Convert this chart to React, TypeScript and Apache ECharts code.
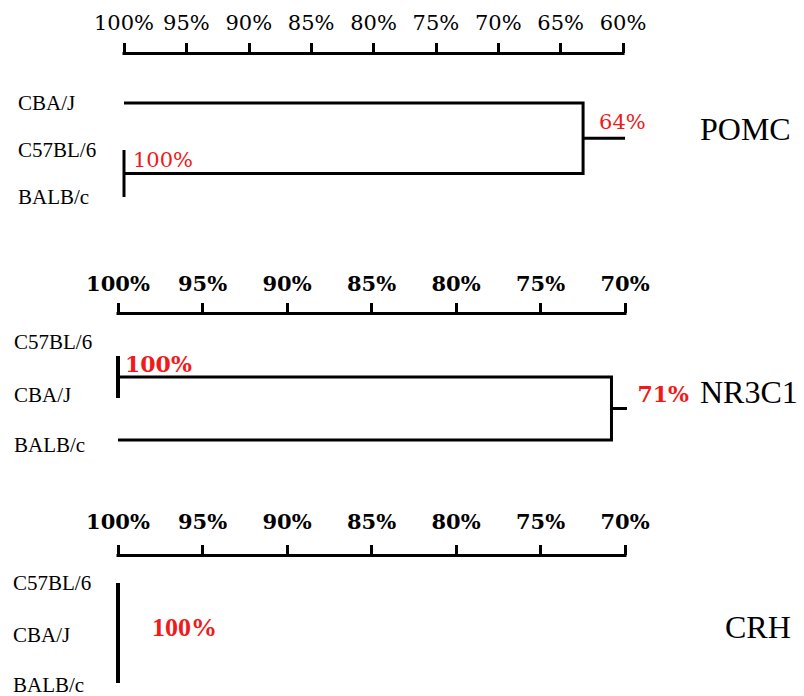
import React, { useEffect, useRef } from 'react';
import * as echarts from 'echarts';

// ---------- data ----------
const pomcTicks = [100, 95, 90, 85, 80, 75, 70, 65, 60];
const pomcLeaves = ['CBA/J', 'C57BL/6', 'BALB/c'];
const pomcMerges = [[1, 2], [0, 3]]; // child node ids (leaves 0..2, merges 3..)
const pomcMergeHeights = [100, 63.2];
const pomcMergeLabels = ['100%', '64%'];
const pomcRootEnd = 58.7;

const nr3c1Ticks = [100, 95, 90, 85, 80, 75, 70];
const nr3c1Leaves = ['C57BL/6', 'CBA/J', 'BALB/c'];
const nr3c1Merges = [[0, 1], [3, 2]];
const nr3c1MergeHeights = [100, 70.8];
const nr3c1MergeLabels = ['100%', '71%'];
const nr3c1RootEnd = 69.6;

const crhTicks = [100, 95, 90, 85, 80, 75, 70];
const crhLeaves = ['C57BL/6', 'CBA/J', 'BALB/c'];
const crhMerges = [[0, 1], [3, 2]];
const crhMergeHeights = [100, 100];
const crhMergeLabels = ['', '100%'];
const crhRootEnd: number | null = null;

const geneNames = ['POMC', 'NR3C1', 'CRH'];

// ---------- layout / style ----------
const panels = [
  {
    gene: geneNames[0], ticks: pomcTicks, leaves: pomcLeaves, merges: pomcMerges,
    heights: pomcMergeHeights, labels: pomcMergeLabels, rootEnd: pomcRootEnd,
    grid: { left: 124, top: 103, width: 499, height: 94 },
    axisOffset: 50, axisLabelMargin: 20, leafLabelLeft: 18,
    axisFont: { fontFamily: 'DejaVu Serif', fontSize: 21, fontWeight: 'normal' },
    labelFont: { fontFamily: 'DejaVu Serif', fontSize: 21, fontWeight: 'normal' },
    labelOffsets: [[9, -14], [16, -16]],
    leafShift: [0, 0, 0],
    lineWidths: [3, 3], stubWidth: 3,
    title: { left: 700, top: 113 },
  },
  {
    gene: geneNames[1], ticks: nr3c1Ticks, leaves: nr3c1Leaves, merges: nr3c1Merges,
    heights: nr3c1MergeHeights, labels: nr3c1MergeLabels, rootEnd: nr3c1RootEnd,
    grid: { left: 118, top: 356, width: 507, height: 84 },
    axisOffset: 43, axisLabelMargin: 19, leafLabelLeft: 14,
    axisFont: { fontFamily: 'DejaVu Serif', fontSize: 21, fontWeight: 'bold' },
    labelFont: { fontFamily: 'DejaVu Serif', fontSize: 22, fontWeight: 'bold' },
    labelOffsets: [[7, -13], [26, -15]],
    leafShift: [-14, -3, 5],
    lineWidths: [4, 3], stubWidth: 3,
    title: { left: 700, top: 376 },
  },
  {
    gene: geneNames[2], ticks: crhTicks, leaves: crhLeaves, merges: crhMerges,
    heights: crhMergeHeights, labels: crhMergeLabels, rootEnd: crhRootEnd,
    grid: { left: 118, top: 583, width: 507, height: 100 },
    axisOffset: 28, axisLabelMargin: 23, leafLabelLeft: 13,
    axisFont: { fontFamily: 'DejaVu Serif', fontSize: 21, fontWeight: 'bold' },
    labelFont: { fontFamily: 'Liberation Serif', fontSize: 26, fontWeight: 'bold' },
    labelOffsets: [[0, 0], [34, -18]],
    leafShift: [0, 2, 2],
    lineWidths: [4, 4], stubWidth: 4,
    title: { left: 725, top: 611 },
  },
];

const RED = '#f01a1a';

function buildOption() {
  const grid: any[] = [];
  const xAxis: any[] = [];
  const yAxis: any[] = [];
  const series: any[] = [];
  const title: any[] = [];

  panels.forEach((p, i) => {
    const tmax = Math.max(...p.ticks);
    const tmin = Math.min(...p.ticks);
    const step = Math.abs(p.ticks[0] - p.ticks[1]);
    grid.push({ ...p.grid });

    xAxis.push({
      type: 'value', gridIndex: i, position: 'top', inverse: true,
      min: tmin, max: tmax, interval: step, offset: p.axisOffset,
      axisLine: { show: true, onZero: false, lineStyle: { color: '#000', width: 3, cap: 'square' } },
      axisTick: { show: true, length: 10, inside: false, lineStyle: { color: '#000', width: 3 } },
      axisLabel: {
        show: true, margin: p.axisLabelMargin, color: '#000',
        ...p.axisFont,
        formatter: (v: number) => v + '%',
      },
      splitLine: { show: false },
    });

    const rich: any = {};
    p.leafShift.forEach((s, k) => {
      rich['s' + k] = {
        fontFamily: 'Liberation Serif', fontSize: 21, color: '#000',
        padding: s < 0 ? [0, 0, -2 * s, 0] : [2 * s, 0, 0, 0],
      };
    });
    yAxis.push({
      type: 'value', gridIndex: i, inverse: true, min: 0, max: p.leaves.length - 1, interval: 1,
      axisLine: { show: false, onZero: false }, axisTick: { show: false }, splitLine: { show: false },
      axisLabel: {
        show: true, align: 'left', margin: p.grid.left - p.leafLabelLeft,
        fontFamily: 'Liberation Serif', fontSize: 21, color: '#000',
        formatter: (v: number) => {
          const k = Math.round(v);
          if (Math.abs(k - v) > 1e-6 || !p.leaves[k]) return '';
          return '{s' + k + '|' + p.leaves[k] + '}';
        },
        rich,
      },
    });

    // node positions
    const nodes: { x: number; y: number }[] = p.leaves.map((_, k) => ({ x: tmax, y: k }));
    p.merges.forEach((m, j) => {
      const a = nodes[m[0]];
      const b = nodes[m[1]];
      const h = p.heights[j];
      series.push({
        type: 'line', xAxisIndex: i, yAxisIndex: i, symbol: 'none', silent: true, clip: false,
        lineStyle: { color: '#000', width: p.lineWidths[j], cap: 'butt', join: 'miter' },
        data: [[a.x, a.y], [h, a.y], [h, b.y], [b.x, b.y]],
      });
      nodes.push({ x: h, y: (a.y + b.y) / 2 });
    });
    const root = nodes[nodes.length - 1];
    if (p.rootEnd !== null && p.rootEnd !== undefined) {
      series.push({
        type: 'line', xAxisIndex: i, yAxisIndex: i, symbol: 'none', silent: true, clip: false,
        lineStyle: { color: '#000', width: p.stubWidth },
        data: [[root.x, root.y], [p.rootEnd, root.y]],
      });
    }
    // merge annotations
    p.merges.forEach((_, j) => {
      const txt = p.labels[j];
      if (!txt) return;
      const n = nodes[p.leaves.length + j];
      series.push({
        type: 'scatter', xAxisIndex: i, yAxisIndex: i, symbolSize: 0, silent: true, clip: false,
        itemStyle: { opacity: 1 },
        data: [[n.x, n.y, txt]],
        label: {
          show: true, position: 'right', distance: 0, offset: p.labelOffsets[j],
          color: RED, opacity: 1, ...p.labelFont,
          formatter: (q: any) => q.data[2],
        },
      });
    });

    title.push({
      text: p.gene, left: p.title.left, top: p.title.top, padding: 0,
      textStyle: { fontFamily: 'Liberation Serif', fontSize: 32, fontWeight: 'normal', color: '#000' },
    });
  });

  return { animation: false, backgroundColor: '#fff', title, grid, xAxis, yAxis, series };
}

export default function App() {
  const ref = useRef<HTMLDivElement>(null);
  useEffect(() => {
    if (!ref.current) return;
    const chart = echarts.init(ref.current, undefined, { renderer: 'svg' });
    chart.setOption(buildOption() as any);
    return () => chart.dispose();
  }, []);
  return <div ref={ref} style={{ position: 'absolute', left: 0, top: 0, width: 804, height: 696 }} />;
}
